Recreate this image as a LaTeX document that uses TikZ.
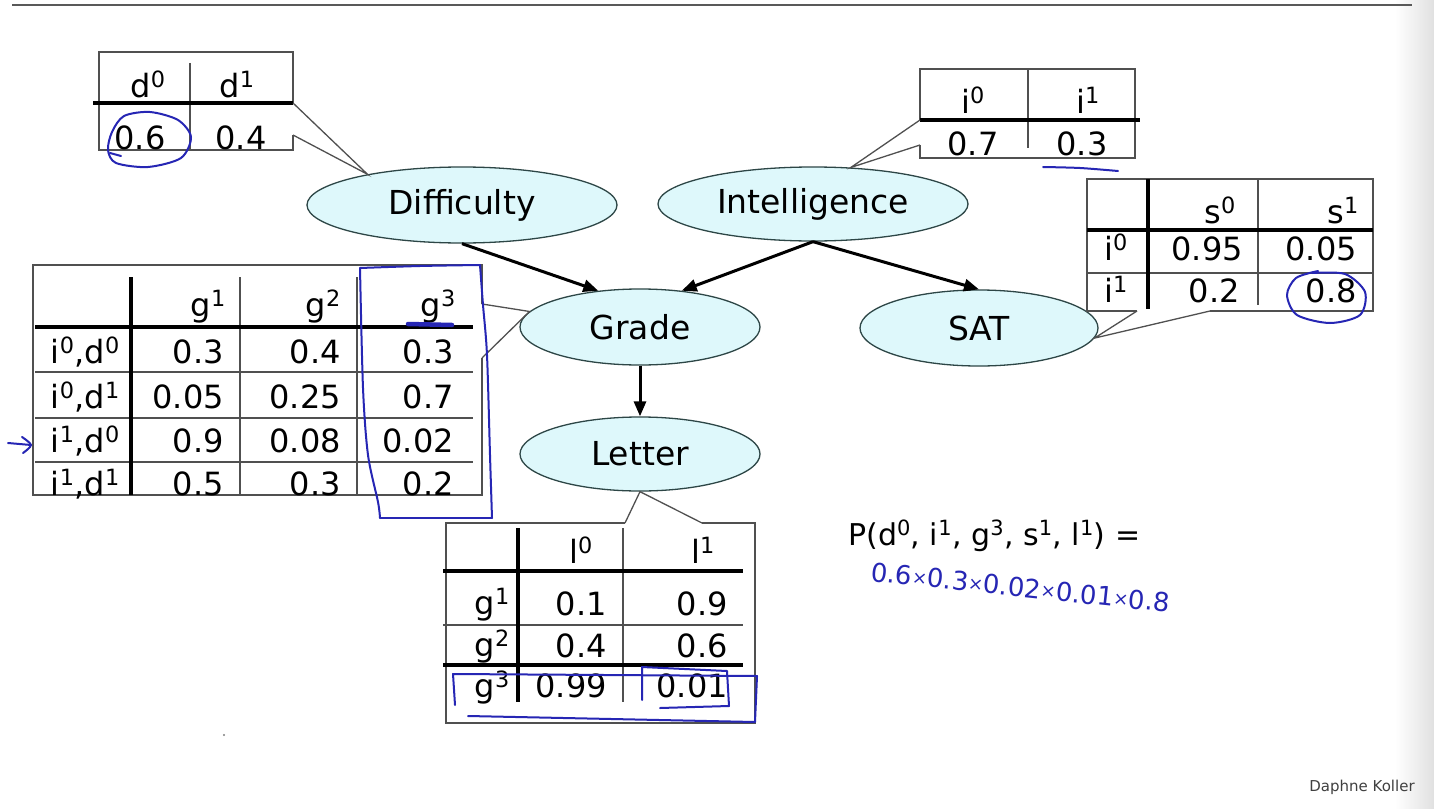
\documentclass[tikz,border=0pt]{standalone}
\usepackage{fontspec}
\setmainfont{DejaVu Sans}
\usetikzlibrary{shapes.geometric,arrows.meta}
\definecolor{ellfill}{RGB}{222,248,251}
\definecolor{elldraw}{RGB}{45,70,70}
\definecolor{penblue}{RGB}{38,38,180}
\definecolor{tgray}{RGB}{80,80,80}
\newcommand{\su}[1]{\textsuperscript{#1}}
\newcommand{\tfont}{\fontsize{32}{38}\selectfont}
\newcommand{\efont}{\fontsize{33}{40}\selectfont}
\newcommand{\hx}{{\fontsize{18}{18}\selectfont\raisebox{2pt}{×}}}
\begin{document}
\begin{tikzpicture}[x=1pt,y=-1pt,
  tcen/.style={font=\tfont,inner sep=0pt,anchor=base},
  trgt/.style={font=\tfont,inner sep=0pt,anchor=base east},
  tlft/.style={font=\tfont,inner sep=0pt,anchor=base west},
  ell/.style={ellipse,draw=elldraw,fill=ellfill,line width=1.3pt,inner sep=0pt,font=\efont},
  tline/.style={draw=tgray,line width=1.3pt},
  tthick/.style={draw=black,line width=3.6pt},
  arr/.style={draw=black,line width=3pt,-{Triangle[length=15pt,width=12pt]}},
  pen/.style={draw=penblue,line width=2pt,line cap=round,line join=round}]
% background
\fill[white] (0,0) rectangle (1434,808);
\shade[left color=white,right color=black!12] (1395,0) rectangle (1434,808);
\draw[black!65,line width=2pt] (12,5) -- (1412,5);
\fill[black!50] (224,735) circle (1.2);

% ellipses
\node[ell,minimum width=310pt,minimum height=76pt] (diff) at (462,205) {Difficulty};
\node[ell,minimum width=310pt,minimum height=74pt] (intel) at (813,204) {Intelligence};
\node[ell,minimum width=240pt,minimum height=76pt] (grade) at (640,327) {Grade};
\node[ell,minimum width=238pt,minimum height=76pt] (sat) at (979,328) {SAT};
\node[ell,minimum width=240pt,minimum height=74pt] (letter) at (640,454) {Letter};

% arrows
\draw[arr] (diff.south) -- (grade.139);
\draw[arr] (intel.south) -- (grade.41);
\draw[arr] (intel.south) -- (sat.north);
\draw[arr] (grade.south) -- (letter.north);

% Difficulty table
\coordinate (dA) at (293,103);
\coordinate (dB) at (293,135);
\draw[tline] (dB) -- (293,150) -- (99,150) -- (99,52) -- (293,52) -- (dA);
\draw[tline] (190,63) -- (190,150);
\draw[tthick] (93,103) -- (293,103);
\draw[tline] (dA) -- (diff.162) -- (dB);
\node[tcen] (hd0) at (148,97) {d\su{0}};
\node[tcen] (hd1) at (237,97) {d\su{1}};
\node[tcen] (vd0) at (140,149) {0.6};
\node[tcen] (vd1) at (241,149) {0.4};

% Intelligence table
\coordinate (iA) at (920,120);
\coordinate (iB) at (920,145);
\draw[tline] (iB) -- (920,158) -- (1135,158) -- (1135,69) -- (920,69) -- (iA);
\draw[tline] (1028,69) -- (1028,148);
\draw[tthick] (920,120) -- (1140,120);
\draw[tline] (iA) -- (intel.44) -- (iB);
\node[tcen] (hi0) at (973,113) {i\su{0}};
\node[tcen] (hi1) at (1088,113) {i\su{1}};
\node[tcen] (vi0) at (973,155) {0.7};
\node[tcen] (vi1) at (1082,155) {0.3};

% SAT table
\coordinate (sA) at (1137,311);
\coordinate (sB) at (1210,311);
\draw[tline] (sA) -- (1087,311) -- (1087,179) -- (1373,179) -- (1373,311) -- (sB);
\draw[tline] (1087,273) -- (1373,273);
\draw[tline] (1258,179) -- (1258,305);
\draw[tthick] (1087,230) -- (1373,230);
\draw[tthick] (1148,179) -- (1148,309);
\draw[tline] (sA) -- (sat.-5) -- (sB);
\node[trgt] (hs0) at (1236,223) {s\su{0}};
\node[trgt] (hs1) at (1359,223) {s\su{1}};
\node[tlft] (rs0) at (1104,260) {i\su{0}};
\node[tlft] (rs1) at (1104,302) {i\su{1}};
\node[trgt] (s00) at (1243,260) {0.95};
\node[trgt] (s01) at (1357,260) {0.05};
\node[trgt] (s10) at (1240,302) {0.2};
\node[trgt] (s11) at (1357,302) {0.8};

% Grade table
\coordinate (gA) at (482,304);
\coordinate (gB) at (482,358);
\draw[tline] (gA) -- (482,265) -- (33,265) -- (33,495) -- (482,495) -- (gB);
\draw[tline] (240,277) -- (240,495);
\draw[tline] (357,277) -- (357,495);
\draw[tline] (35,372) -- (473,372);
\draw[tline] (35,418) -- (473,418);
\draw[tline] (35,462) -- (473,462);
\draw[tthick] (35,327) -- (473,327);
\draw[tthick] (131,277) -- (131,495);
\draw[tline] (gA) -- (grade.172) -- (gB);
\node[trgt] (hg1) at (226,316) {g\su{1}};
\node[trgt] (hg2) at (341,316) {g\su{2}};
\node[trgt] (hg3) at (456,316) {g\su{3}};
\node[trgt] (rg1) at (120,363) {i\su{0},d\su{0}};
\node[trgt] (rg2) at (120,408) {i\su{0},d\su{1}};
\node[trgt] (rg3) at (120,452) {i\su{1},d\su{0}};
\node[trgt] (rg4) at (120,495) {i\su{1},d\su{1}};
\node[trgt] (g11) at (224,363) {0.3};
\node[trgt] (g12) at (341,363) {0.4};
\node[trgt] (g13) at (454,363) {0.3};
\node[trgt] (g21) at (224,408) {0.05};
\node[trgt] (g22) at (341,408) {0.25};
\node[trgt] (g23) at (454,408) {0.7};
\node[trgt] (g31) at (224,452) {0.9};
\node[trgt] (g32) at (341,452) {0.08};
\node[trgt] (g33) at (454,452) {0.02};
\node[trgt] (g41) at (224,495) {0.5};
\node[trgt] (g42) at (341,495) {0.3};
\node[trgt] (g43) at (454,495) {0.2};

% Letter table
\coordinate (lA) at (625,523);
\coordinate (lB) at (702,523);
\draw[tline] (lA) -- (446,523) -- (446,723) -- (755,723) -- (755,523) -- (lB);
\draw[tline] (443,625) -- (743,625);
\draw[tline] (623,528) -- (623,702);
\draw[tthick] (443,571) -- (743,571);
\draw[tthick] (443,665) -- (743,665);
\draw[tthick] (518,528) -- (518,702);
\draw[tline] (lA) -- (letter.south) -- (lB);
\node[tcen] (hl0) at (581,563) {l\su{0}};
\node[tcen] (hl1) at (703,563) {l\su{1}};
\node[trgt] (rl1) at (510,614) {g\su{1}};
\node[trgt] (rl2) at (510,656) {g\su{2}};
\node[trgt] (rl3) at (510,697) {g\su{3}};
\node[trgt] (l11) at (607,615) {0.1};
\node[trgt] (l12) at (728,615) {0.9};
\node[trgt] (l21) at (607,657) {0.4};
\node[trgt] (l22) at (728,657) {0.6};
\node[trgt] (l31) at (607,697) {0.99};
\node[trgt] (l32) at (728,697) {0.01};

% formula
\node[font=\fontsize{30}{36}\selectfont,inner sep=0pt,anchor=base west] (formula) at (848,545)
  {P(d\su{0}, i\su{1}, g\su{3}, s\su{1}, l\su{1}) =};
\node[font=\fontsize{26}{31}\selectfont,text=penblue,inner sep=0pt,anchor=base west,rotate=-6] (hand) at (870,581)
  {0.6\hx0.3\hx0.02\hx0.01\hx0.8};
\node[font=\fontsize{15}{18}\selectfont,text=black!75,inner sep=0pt] (author) at (1362,787) {Daphne Koller};

% pen marks
\draw[pen] plot[smooth cycle] coordinates {(124,116) (150,112) (178,120) (191,137) (181,158) (148,167) (116,163) (108,150) (112,132)};
\draw[pen] (110,153) -- (121,156);
\draw[pen] plot[smooth] coordinates {(1043,167) (1080,168) (1118,171)};
\draw[pen] plot[smooth] coordinates {(1312,273) (1345,274) (1365,292) (1360,315) (1330,323) (1297,315) (1287,295) (1296,278) (1318,271)};
\draw[pen] plot[smooth] coordinates {(360,268) (420,266) (480,265)};
\draw[pen] plot[smooth] coordinates {(480,265) (483,305) (487,355) (490,455) (492,518)};
\draw[pen] (492,518) -- (380,518);
\draw[pen] plot[smooth] coordinates {(380,518) (378,502) (368,455) (363,388) (360,268)};
\draw[penblue,line width=4.5pt,line cap=round] (408,324) -- (452,325);
\draw[pen] (8,443) -- (31,445);
\draw[pen] plot[smooth] coordinates {(22,437) (31,445) (23,453)};
\draw[pen] (455,705) -- (453,674) -- (757,676) -- (755,722) -- (468,716);
\draw[pen] (642,700) -- (642,667) -- (727,671) -- (729,706) -- (660,708);
\end{tikzpicture}
\end{document}
